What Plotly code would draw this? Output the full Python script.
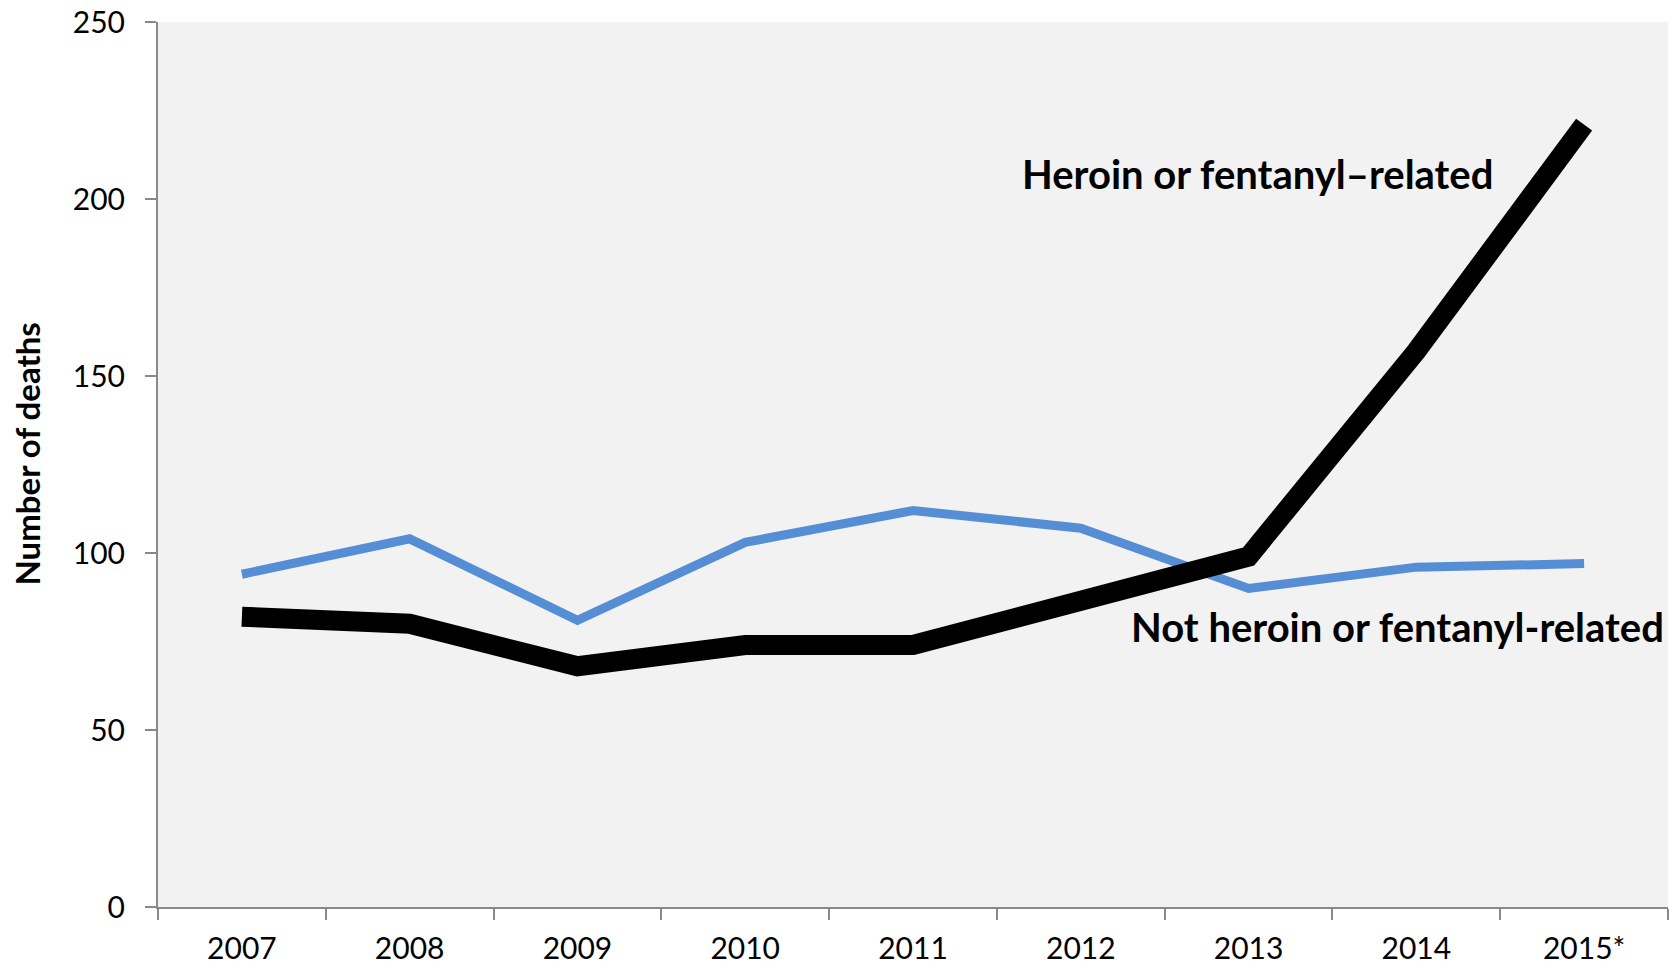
import plotly.graph_objects as go

years = ["2007", "2008", "2009", "2010", "2011", "2012", "2013", "2014", "2015*"]
heroin_fentanyl = [82, 80, 68, 74, 74, 86, 99, 157, 221]
not_heroin_fentanyl = [94, 104, 81, 103, 112, 107, 90, 96, 97]
y_ticks = [0, 50, 100, 150, 200, 250]

FONT = "Lato, 'Liberation Sans', sans-serif"

fig = go.Figure()
fig.add_trace(go.Scatter(
    x=years, y=not_heroin_fentanyl, mode="lines",
    line=dict(color="#558ED5", width=9),
    name="Not heroin or fentanyl-related", showlegend=False,
))
fig.add_trace(go.Scatter(
    x=years, y=heroin_fentanyl, mode="lines",
    line=dict(color="#000000", width=20),
    name="Heroin or fentanyl–related", showlegend=False,
))

fig.add_annotation(
    x=4.64, y=207, xref="x", yref="y", text="<b>Heroin or fentanyl–related</b>",
    showarrow=False, xanchor="left", yanchor="middle",
    font=dict(family=FONT, size=40, color="#000000"),
)
fig.add_annotation(
    x=5.29, y=79, xref="x", yref="y", text="<b>Not heroin or fentanyl-related</b>",
    showarrow=False, xanchor="left", yanchor="middle",
    font=dict(family=FONT, size=40, color="#000000"),
)
fig.add_annotation(
    x=-0.087, y=0.512, xref="paper", yref="paper", text="<b>Number of deaths</b>",
    showarrow=False, textangle=-90, xanchor="center", yanchor="middle",
    font=dict(family=FONT, size=33, color="#000000"),
)

fig.update_layout(
    width=1671, height=965,
    margin=dict(l=158, r=3, t=22, b=58, autoexpand=False),
    paper_bgcolor="white", plot_bgcolor="#F2F2F2",
    font=dict(family=FONT, color="#000000"),
)
fig.update_xaxes(
    type="category", range=[-0.5, 8.5], automargin=False,
    showline=True, linecolor="#898989", linewidth=2,
    ticks="outside", tickson="boundaries", ticklen=11, tickcolor="#898989", tickwidth=2,
    showgrid=False, zeroline=False,
    tickfont=dict(family=FONT, size=30, color="#000000"),
    ticklabelstandoff=14,
)
fig.update_yaxes(
    range=[0, 250], tickvals=y_ticks, automargin=False,
    showline=True, linecolor="#898989", linewidth=2,
    ticks="outside", ticklen=11, tickcolor="#898989", tickwidth=2,
    showgrid=False, zeroline=False,
    tickfont=dict(family=FONT, size=30, color="#000000"),
    ticklabelstandoff=14,
)

fig.write_html(
    "out.html",
    config={"displayModeBar": False},
    post_script="document.body.style.margin='0';document.body.style.overflow='hidden';",
)
